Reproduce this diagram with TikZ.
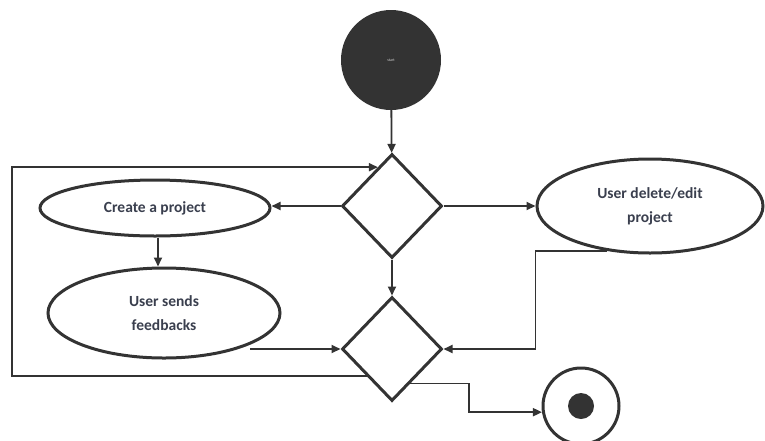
\documentclass[tikz,border=0pt]{standalone}
\usepackage{fontspec}
\setmainfont{Carlito}
\usetikzlibrary{shapes.geometric,arrows.meta,calc}
\definecolor{ink}{HTML}{333333}
\definecolor{txt}{HTML}{3A3F4E}
\begin{document}
\begin{tikzpicture}[x=1pt,y=-1pt,
  flow/.style={draw=ink,line width=1.8pt,-{Triangle[length=9pt,width=8pt]}},
  decision/.style={diamond,draw=ink,line width=3pt,minimum width=100pt,minimum height=104pt,inner sep=0pt},
  activity/.style={ellipse,draw=ink,line width=3pt,inner sep=0pt,text=txt,
    font=\bfseries\fontsize{15.5}{24}\selectfont,align=center},
]
\useasboundingbox (0,0) rectangle (765,440);

% initial and final states
\node[circle,fill=ink,minimum size=100pt,inner sep=0pt,text=white!75!ink,
      font=\fontsize{4}{4}\selectfont] (start) at (391,60) {start};
\node[circle,draw=ink,line width=3pt,minimum size=76pt,inner sep=0pt] (final) at (581,406) {};
\fill[ink] (final.center) circle (13pt);

% decisions
\node[decision] (d1) at (392,206) {};
\node[decision] (d2) at (392,349) {};

% activities
\node[activity,minimum width=230pt,minimum height=56pt] (create) at (155,208) {Create a project};
\node[activity,minimum width=232pt,minimum height=90pt] (sends) at (164,313) {User sends\\feedbacks};
\node[activity,minimum width=226pt,minimum height=94pt] (edit) at (650,206) {User delete/edit\\project};

% helper points for the free ends and bends
\coordinate (fbout) at (250,349);
\coordinate (loopx) at (12,0);
\coordinate (exitx) at (469,0);

% connectors
\draw[flow] (start) -- (d1);
\draw[flow] (d1.west) -- (create.east |- d1.west);
\draw[flow] (d1.east) -- (edit.west |- d1.east);
\draw[flow] (create.south -| 158,0) -- (sends.north -| 158,0);
\draw[flow] (d1.south) -- (d2.north);
\draw[flow] (fbout) -- (d2.west);
\draw[flow] (edit.226) -| (d2.east -| edit.west) -- (d2.east);
\draw[flow] (d2.227) -- (d2.227 -| loopx) |- (d1.110);
\draw[flow] (d2.-62) -- (d2.-62 -| exitx) |- (final.189);
\end{tikzpicture}
\end{document}
